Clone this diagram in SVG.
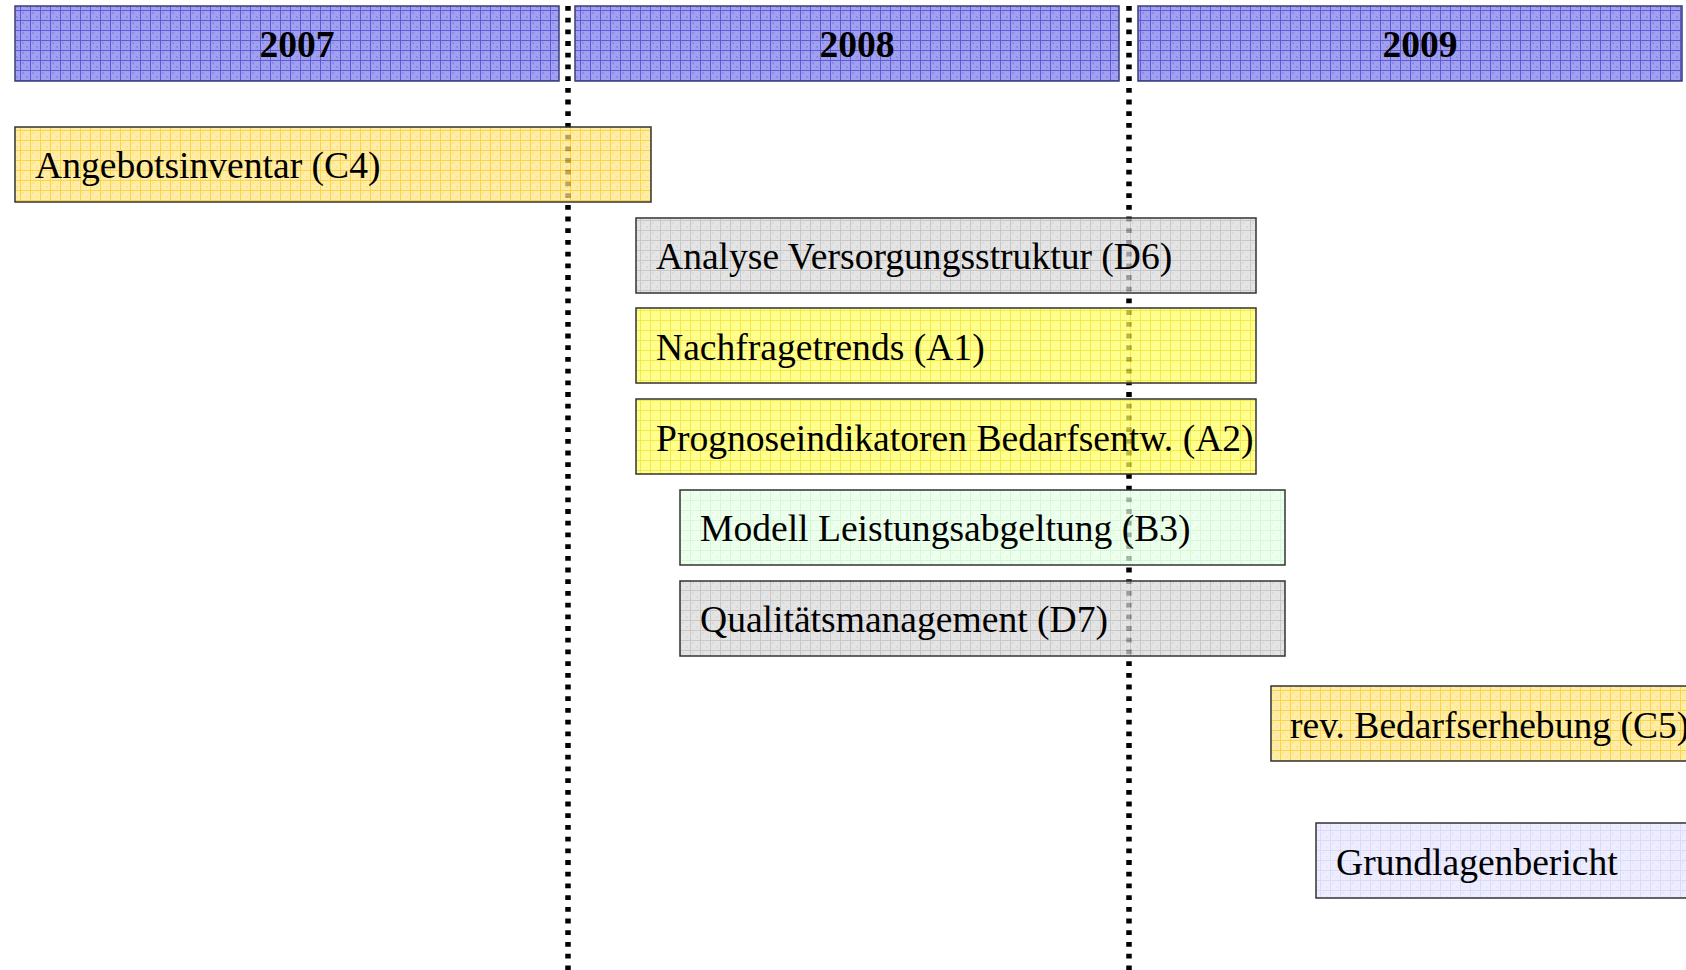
<svg xmlns="http://www.w3.org/2000/svg" width="1686" height="970" viewBox="0 0 1686 970">
<defs>
<pattern id="pBlue" width="10" height="10" patternUnits="userSpaceOnUse">
<rect width="10" height="10" fill="#a0a0ee"/>
<rect x="2" y="2" width="2" height="2" fill="#8c8ce6"/><rect x="6" y="6" width="2" height="2" fill="#8c8ce6"/>
<path d="M0 0.5H10M0.5 0V10" stroke="#5a5ad8" stroke-width="1"/>
</pattern>
<pattern id="pGold" width="10" height="10" patternUnits="userSpaceOnUse">
<rect width="10" height="10" fill="#ffe485"/>
<rect x="2" y="2" width="2" height="2" fill="#ffd960"/><rect x="6" y="6" width="2" height="2" fill="#ffd960"/>
<path d="M0 0.5H10M0.5 0V10" stroke="#f5c400" stroke-width="1"/>
</pattern>
<pattern id="pGray" width="10" height="10" patternUnits="userSpaceOnUse">
<rect width="10" height="10" fill="#dadada"/>
<rect x="2" y="2" width="2" height="2" fill="#cccccc"/><rect x="6" y="6" width="2" height="2" fill="#cccccc"/>
<path d="M0 0.5H10M0.5 0V10" stroke="#b2b2b2" stroke-width="1"/>
</pattern>
<pattern id="pYellow" width="10" height="10" patternUnits="userSpaceOnUse">
<rect width="10" height="10" fill="#ffff66"/>
<rect x="2" y="2" width="2" height="2" fill="#ffff40"/><rect x="6" y="6" width="2" height="2" fill="#ffff40"/>
<path d="M0 0.5H10M0.5 0V10" stroke="#f0e000" stroke-width="1"/>
</pattern>
<pattern id="pGreen" width="10" height="10" patternUnits="userSpaceOnUse">
<rect width="10" height="10" fill="#e6ffe6"/>
<rect x="2" y="2" width="2" height="2" fill="#dcf8dc"/><rect x="6" y="6" width="2" height="2" fill="#dcf8dc"/>
<path d="M0 0.5H10M0.5 0V10" stroke="#c8f4c8" stroke-width="1"/>
</pattern>
<pattern id="pLav" width="10" height="10" patternUnits="userSpaceOnUse">
<rect width="10" height="10" fill="#e6e6ff"/>
<rect x="2" y="2" width="2" height="2" fill="#dcdcfa"/><rect x="6" y="6" width="2" height="2" fill="#dcdcfa"/>
<path d="M0 0.5H10M0.5 0V10" stroke="#cdcdf6" stroke-width="1"/>
</pattern>
</defs>
<style>
.hdr{stroke:#3c3c78;stroke-width:1.5}
.box{stroke:#333;stroke-width:1.5;fill-opacity:0.72}
.yr{font-family:"Liberation Serif","Times New Roman",serif;font-weight:bold;font-size:37.5px;text-anchor:middle;fill:#000}
.lbl{font-family:"Liberation Serif","Times New Roman",serif;font-size:37.6px;fill:#000}
.sep{stroke:#000;stroke-width:5.5;stroke-dasharray:4.8 6.9;fill:none}
</style>
<rect width="1686" height="970" fill="#fff"/>
<g id="header-2007"><rect class="hdr" x="15" y="6" width="544" height="75" fill="url(#pBlue)"/><text class="yr" x="297" y="57">2007</text></g>
<g id="header-2008"><rect class="hdr" x="575" y="6" width="544" height="75" fill="url(#pBlue)"/><text class="yr" x="857" y="57">2008</text></g>
<g id="header-2009"><rect class="hdr" x="1138" y="6" width="544" height="75" fill="url(#pBlue)"/><text class="yr" x="1420" y="57">2009</text></g>
<g id="connectors">
<line class="sep" x1="568" y1="6" x2="568" y2="970"/>
<line class="sep" x1="1129" y1="6" x2="1129" y2="970"/>
</g>
<g id="task-c4"><rect class="box" x="15" y="127" width="636" height="75" fill="url(#pGold)"/><text class="lbl" x="35" y="178">Angebotsinventar (C4)</text></g>
<g id="task-d6"><rect class="box" x="636" y="218" width="620" height="75" fill="url(#pGray)"/><text class="lbl" x="656" y="269">Analyse Versorgungsstruktur (D6)</text></g>
<g id="task-a1"><rect class="box" x="636" y="308" width="620" height="75" fill="url(#pYellow)"/><text class="lbl" x="656" y="360">Nachfragetrends (A1)</text></g>
<g id="task-a2"><rect class="box" x="636" y="399" width="620" height="75" fill="url(#pYellow)"/><text class="lbl" x="656" y="451">Prognoseindikatoren Bedarfsentw. (A2)</text></g>
<g id="task-b3"><rect class="box" x="680" y="490" width="605" height="75" fill="url(#pGreen)"/><text class="lbl" x="700" y="541">Modell Leistungsabgeltung (B3)</text></g>
<g id="task-d7"><rect class="box" x="680" y="581" width="605" height="75" fill="url(#pGray)"/><text class="lbl" x="700" y="632">Qualitätsmanagement (D7)</text></g>
<g id="task-c5"><rect class="box" x="1271" y="686" width="430" height="75" fill="url(#pGold)"/><text class="lbl" x="1290" y="738">rev. Bedarfserhebung (C5)</text></g>
<g id="task-grundlagen"><rect class="box" x="1316" y="823" width="390" height="75" fill="url(#pLav)"/><text class="lbl" x="1336" y="875">Grundlagenbericht</text></g>
</svg>
